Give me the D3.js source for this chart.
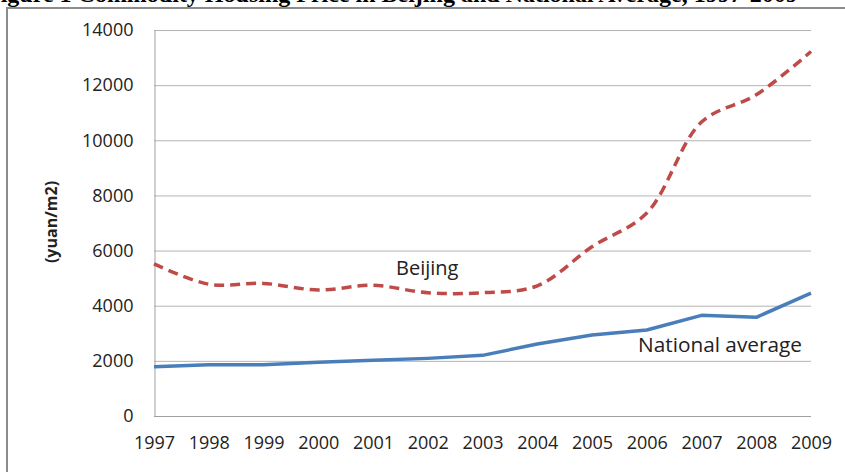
<!DOCTYPE html>
<html>
<head>
<meta charset="utf-8">
<script src="https://cdn.jsdelivr.net/npm/d3@7"></script>
<style>
  body { margin: 0; background: #fff; }
  svg { display: block; }
</style>
</head>
<body>
<div id="chart"></div>
<script>
// data (yuan per square metre)
const years = ['1997', '1998', '1999', '2000', '2001', '2002', '2003', '2004', '2005', '2006', '2007', '2008', '2009'];
const beijing = [5520, 4780, 4810, 4570, 4740, 4470, 4470, 4720, 6140, 7360, 10660, 11650, 13220];
const national = [1790, 1855, 1860, 1950, 2020, 2090, 2200, 2610, 2940, 3120, 3650, 3580, 4460];
const yTicks = [0, 2000, 4000, 6000, 8000, 10000, 12000, 14000];

const dimension = { width: 845, height: 472 };
const margin = { left: 154, right: 34, top: 30, bottom: 56 };

const svg = d3.select('#chart')
  .append('svg')
  .attr('width', dimension.width)
  .attr('height', dimension.height);

// title, mostly cropped off at the top of the picture (as in the source)
svg.append('text')
  .attr('x', -14)
  .attr('y', 1.5)
  .attr('font-family', 'Liberation Serif, serif')
  .attr('font-weight', 'bold')
  .attr('font-size', 24)
  .attr('fill', '#000')
  .text('Figure 1 Commodity Housing Price in Beijing and National Average, 1997-2009');

// outer frame
svg.append('path')
  .attr('d', `M7,${dimension.height + 5} V8 H${dimension.width + 5}`)
  .attr('fill', 'none')
  .attr('stroke', '#8c8c8c')
  .attr('stroke-width', 2);

// scales
const x = d3.scalePoint()
  .domain(years)
  .range([margin.left, dimension.width - margin.right]);
const y = d3.scaleLinear()
  .domain([0, 14000])
  .range([dimension.height - margin.bottom, margin.top]);

// gridlines
svg.append('g')
  .selectAll('line')
  .data(yTicks.slice(1))
  .enter()
  .append('line')
  .attr('x1', margin.left)
  .attr('x2', dimension.width - margin.right)
  .attr('y1', d => y(d) + 0.5)
  .attr('y2', d => y(d) + 0.5)
  .attr('stroke', '#b4b4b4')
  .attr('stroke-width', 1);

// y axis
const yAxis = svg.append('g')
  .attr('transform', `translate(${margin.left + 0.5},0)`)
  .call(d3.axisLeft(y).tickValues(yTicks).tickSize(0).tickPadding(21).tickFormat(d3.format('d')));
yAxis.select('.domain').attr('stroke', '#a0a0a0');
yAxis.selectAll('text')
  .attr('font-family', 'Open Sans, sans-serif')
  .attr('font-size', 18)
  .attr('fill', '#222');

// x axis
const xAxis = svg.append('g')
  .attr('transform', `translate(0,${y(0) + 0.5})`)
  .call(d3.axisBottom(x).tickSize(0).tickPadding(20));
xAxis.select('.domain')
  .attr('stroke', '#a0a0a0')
  .attr('d', `M${margin.left},0H${dimension.width - margin.right}`);
xAxis.selectAll('text')
  .attr('font-family', 'Open Sans, sans-serif')
  .attr('font-size', 18)
  .attr('fill', '#222');

// y axis title
svg.append('text')
  .attr('transform', 'translate(57,222) rotate(-90)')
  .attr('text-anchor', 'middle')
  .attr('font-family', 'Open Sans, sans-serif')
  .attr('font-weight', 'bold')
  .attr('font-size', 16)
  .attr('fill', '#222')
  .text('(yuan/m2)');

// lines
const lineNational = d3.line()
  .x((d, i) => x(years[i]))
  .y(d => y(d));
const lineBeijing = d3.line()
  .x((d, i) => x(years[i]))
  .y(d => y(d))
  .curve(d3.curveCatmullRom.alpha(0.5));

svg.append('path')
  .datum(national)
  .attr('d', lineNational)
  .attr('fill', 'none')
  .attr('stroke', '#4a7ebb')
  .attr('stroke-width', 3.5)
  .attr('stroke-linejoin', 'round');

svg.append('path')
  .datum(beijing)
  .attr('d', lineBeijing)
  .attr('fill', 'none')
  .attr('stroke', '#be4b48')
  .attr('stroke-width', 3.5)
  .attr('stroke-dasharray', '10,6');

// series labels
svg.append('text')
  .attr('x', 396)
  .attr('y', 275)
  .attr('font-family', 'Open Sans, sans-serif')
  .attr('font-size', 20)
  .attr('fill', '#222')
  .text('Beijing');

svg.append('text')
  .attr('x', 638)
  .attr('y', 352)
  .attr('font-family', 'Open Sans, sans-serif')
  .attr('font-size', 20.8)
  .attr('fill', '#222')
  .text('National average');
</script>
</body>
</html>
